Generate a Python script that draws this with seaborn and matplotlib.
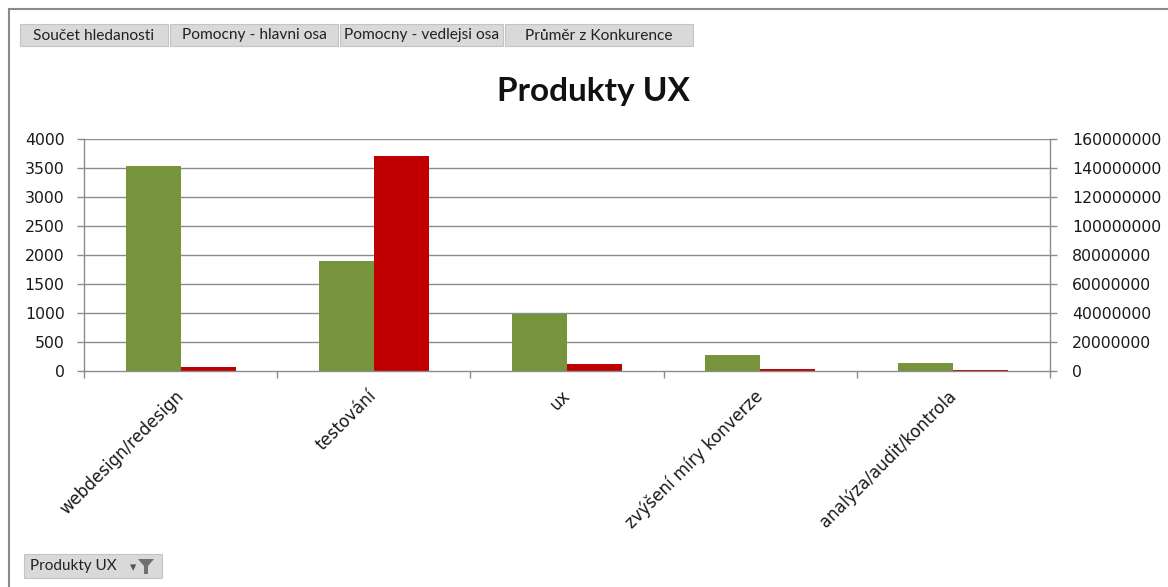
import matplotlib
matplotlib.use("Agg")
import matplotlib.pyplot as plt
import matplotlib.patches as mpatches
import seaborn as sns
import pandas as pd
import numpy as np

sns.set_theme(style="white")
plt.rcParams['font.family'] = ['DejaVu Sans']

# data
categories = ['webdesign/redesign', 'testování', 'ux', 'zvýšení míry konverze', 'analýza/audit/kontrola']
hledanost = [3540, 1890, 990, 270, 140]              # main axis
konkurence = [2800000, 148300000, 4600000, 1100000, 900000]  # secondary axis
series = ['Součet hledanosti', 'Průměr z Konkurence']
field_buttons = ['Součet hledanosti', 'Pomocny - hlavni osa', 'Pomocny - vedlejsi osa', 'Průměr z Konkurence']
left_ticks = list(range(0, 4001, 500))
right_ticks = list(range(0, 160000001, 20000000))

GREEN = '#77933c'
RED = '#c00000'
GRID = '#8c8c8c'
TXT = '#1a1a1a'

W, H = 1168, 587
fig = plt.figure(figsize=(W / 100, H / 100), dpi=100)
fig.patch.set_facecolor('white')

def px(x0, y0, x1, y1):
    # pixel box (top-left origin) -> figure fraction rect
    return [x0 / W, 1 - y1 / H, (x1 - x0) / W, (y1 - y0) / H]

ax = fig.add_axes(px(84, 139, 1050, 371))
ax2 = ax.twinx()

df1 = pd.DataFrame({'kat': categories * 2,
                    'serie': [series[0]] * 5 + [series[1]] * 5,
                    'val': hledanost + [np.nan] * 5})
df2 = pd.DataFrame({'kat': categories * 2,
                    'serie': [series[0]] * 5 + [series[1]] * 5,
                    'val': [np.nan] * 5 + konkurence})

pal = {series[0]: GREEN, series[1]: RED}
sns.barplot(data=df1, x='kat', y='val', hue='serie', hue_order=series, palette=pal,
            order=categories, width=0.57, dodge=True, ax=ax, legend=False,
            saturation=1, linewidth=0, errorbar=None)
sns.barplot(data=df2, x='kat', y='val', hue='serie', hue_order=series, palette=pal,
            order=categories, width=0.57, dodge=True, ax=ax2, legend=False,
            saturation=1, linewidth=0, errorbar=None)

ax.set_zorder(1)
ax.patch.set_visible(False)
ax2.set_zorder(0)

ax.set_xlim(-0.5, 4.5)
ax.set_ylim(0, 4000)
ax2.set_ylim(0, 160000000)
ax.set_yticks(left_ticks)
ax.set_yticklabels([str(t) for t in left_ticks])
ax2.set_yticks(right_ticks)
ax2.set_yticklabels([str(t) for t in right_ticks])

ax2.grid(False)
ax.grid(False)
for t in right_ticks[1:]:
    ax2.axhline(t, color=GRID, lw=1, zorder=0)

ax.set_xlabel('')
ax.set_ylabel('')
ax2.set_ylabel('')

ax.set_xticks(range(len(categories)))
ax.set_xticklabels(categories, rotation=45, ha='right', va='center',
                   rotation_mode='anchor', fontsize=12, color=TXT)
ax.set_xticks(np.arange(-0.5, 5, 1), minor=True)
ax.tick_params(axis='x', which='major', length=0, pad=16)
ax.tick_params(axis='x', which='minor', length=5, width=1, color=GRID, direction='out', bottom=True)
ax.tick_params(axis='y', length=5, width=1, color=GRID, direction='out', left=True,
               labelsize=11.3, labelcolor=TXT, pad=9)
ax2.tick_params(axis='y', length=5, width=1, color=GRID, direction='out', right=True,
                labelsize=11.3, labelcolor=TXT, pad=11)

for a in (ax, ax2):
    a.spines['top'].set_visible(False)
    for s in ['left', 'right', 'bottom']:
        a.spines[s].set_color(GRID)
        a.spines[s].set_linewidth(1)
ax.spines['right'].set_visible(False)
ax2.spines['left'].set_visible(False)
ax2.spines['bottom'].set_visible(False)

# title
fig.text(593 / W, 1 - 91 / H, 'Produkty UX', ha='center', va='center',
         fontsize=24, fontweight='bold', family=['Lato', 'DejaVu Sans'], color='#111111')

# outer frame (top and left)
fig.add_artist(plt.Line2D([9 / W, 1], [1 - 9 / H, 1 - 9 / H], color='#8a8a8a', lw=1.5))
fig.add_artist(plt.Line2D([9 / W, 9 / W], [1 - 9 / H, 0], color='#8a8a8a', lw=1.5))

# pivot field buttons
btn_x = [(20, 168), (170, 338), (340, 503), (505, 693)]
for (x0, x1), label in zip(btn_x, field_buttons):
    r = px(x0, 24, x1, 46)
    fig.add_artist(mpatches.Rectangle((r[0], r[1]), r[2], r[3], transform=fig.transFigure,
                                      facecolor='#d9d9d9', edgecolor='#c4c4c4', lw=0.8))
    fig.text((x0 + x1) / 2 / W, 1 - 35.5 / H, label, ha='center', va='center',
             fontsize=11.2, family=['Lato', 'DejaVu Sans'], color='#222222')

r = px(24, 554, 162, 578)
fig.add_artist(mpatches.Rectangle((r[0], r[1]), r[2], r[3], transform=fig.transFigure,
                                  facecolor='#d9d9d9', edgecolor='#c4c4c4', lw=0.8))
fig.text(30 / W, 1 - 566 / H, 'Produkty UX', ha='left', va='center',
         fontsize=11, family=['Lato', 'DejaVu Sans'], color='#222222')
fig.text(133 / W, 1 - 568 / H, '▾', ha='center', va='center', fontsize=9, color='#555555')
fig.add_artist(mpatches.Polygon([(138 / W, 1 - 559 / H), (154 / W, 1 - 559 / H),
                                 (148 / W, 1 - 566 / H), (148 / W, 1 - 574 / H),
                                 (144 / W, 1 - 574 / H), (144 / W, 1 - 566 / H)],
                                closed=True, transform=fig.transFigure,
                                facecolor='#707070', edgecolor='none'))

fig.savefig('out.png', dpi=100)
